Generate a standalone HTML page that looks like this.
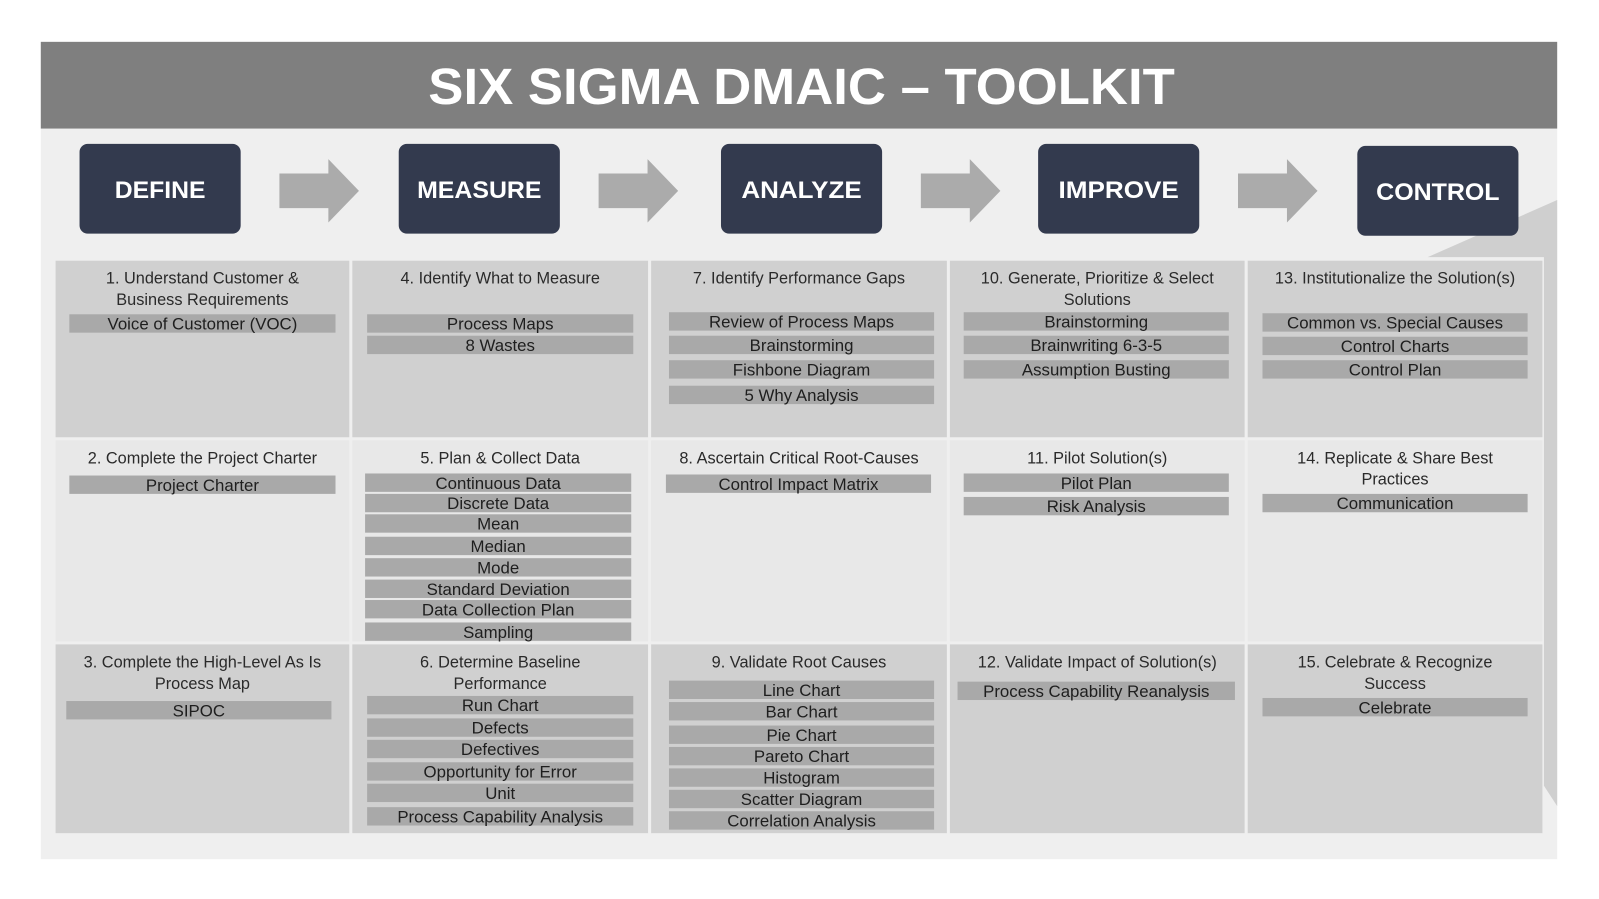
<!DOCTYPE html>
<html><head><meta charset="utf-8"><style>
html,body{margin:0;padding:0;background:#fff;}
svg{display:block;}
text{font-family:"Liberation Sans",sans-serif;}
</style></head><body>
<svg id="chart" width="1599" height="899" viewBox="0 0 1568 881" preserveAspectRatio="none" xmlns="http://www.w3.org/2000/svg">
<rect x="0" y="0" width="1568" height="881" fill="#ffffff"/>
<rect x="40" y="126" width="1487" height="716" fill="#efefef"/>
<polygon points="1400,252 1527,196 1527,790 1514,770 1514,252" fill="#cfcfcf"/>
<rect x="40" y="41" width="1487" height="85" fill="#7f7f7f"/>
<text x="786" y="102" text-anchor="middle" font-size="50" font-weight="bold" fill="#ffffff" textLength="732" lengthAdjust="spacingAndGlyphs">SIX SIGMA DMAIC – TOOLKIT</text>
<g id="phases"></g>
<g id="grid"></g>
</svg>
<script>
const phases = ["DEFINE","MEASURE","ANALYZE","IMPROVE","CONTROL"];
const cellTitles = [
 [["1. Understand Customer &","Business Requirements"],["4. Identify What to Measure"],["7. Identify Performance Gaps"],["10. Generate, Prioritize & Select","Solutions"],["13. Institutionalize the Solution(s)"]],
 [["2. Complete the Project Charter"],["5. Plan & Collect Data"],["8. Ascertain Critical Root-Causes"],["11. Pilot Solution(s)"],["14. Replicate & Share Best","Practices"]],
 [["3. Complete the High-Level As Is","Process Map"],["6. Determine Baseline","Performance"],["9. Validate Root Causes"],["12. Validate Impact of Solution(s)"],["15. Celebrate & Recognize","Success"]]
];
const cellItems = [
 [["Voice of Customer (VOC)"],["Process Maps","8 Wastes"],["Review of Process Maps","Brainstorming","Fishbone Diagram","5 Why Analysis"],["Brainstorming","Brainwriting 6-3-5","Assumption Busting"],["Common vs. Special Causes","Control Charts","Control Plan"]],
 [["Project Charter"],["Continuous Data","Discrete Data","Mean","Median","Mode","Standard Deviation","Data Collection Plan","Sampling"],["Control Impact Matrix"],["Pilot Plan","Risk Analysis"],["Communication"]],
 [["SIPOC"],["Run Chart","Defects","Defectives","Opportunity for Error","Unit","Process Capability Analysis"],["Line Chart","Bar Chart","Pie Chart","Pareto Chart","Histogram","Scatter Diagram","Correlation Analysis"],["Process Capability Reanalysis"],["Celebrate"]]
];
const itemY = [
 [[317],[317,338],[315,338,362,387],[315,338,362],[316,339,362]],
 [[475],[473,493,513,535,556,577,597,619],[474],[473,496],[493]],
 [[696],[691,713,734,756,777,800],[676,697,720,741,762,783,804],[677],[693]]
];
const NS="http://www.w3.org/2000/svg";
function mk(tag,attrs,parent){const e=document.createElementNS(NS,tag);for(const k in attrs)e.setAttribute(k,attrs[k]);parent.appendChild(e);return e;}
const pg=document.getElementById('phases');
const boxX=[78,391,707,1018,1331], boxY=[141,141,141,141,143], labW=[89,122,118,118,121];
phases.forEach((p,i)=>{
 const b=mk('rect',{x:boxX[i],y:boxY[i],width:158,height:88,rx:8,fill:'#333a4e'},pg);
 
 
 const t=mk('text',{x:boxX[i]+79,y:boxY[i]+53,'text-anchor':'middle','font-size':24,'font-weight':'bold',fill:'#fff',textLength:labW[i],lengthAdjust:'spacingAndGlyphs'},pg);
 t.textContent=p;
 
 
 if(i<4){
  const ax=boxX[i]+196;
  const a=mk('polygon',{points:`${ax},170 ${ax+48},170 ${ax+48},156 ${ax+78},187 ${ax+48},218 ${ax+48},204 ${ax},204`,fill:'#ababab'},pg);
  
  
 }
});
const gg=document.getElementById('grid');
const colX=[53,344,637,930,1222,1514], rowY=[254,430,630,818], rowFill=['#d0d0d0','#e8e8e8','#d0d0d0'];
const barX=[[68,329],[360,621],[656,916],[945,1205],[1238,1498]];
for(let r=0;r<3;r++){for(let c=0;c<5;c++){
 const x0=colX[c],x1=colX[c+1],y0=rowY[r],y1=rowY[r+1];
 const cell=mk('rect',{x:x0+1.5,y:y0+1.5,width:x1-x0-3,height:y1-y0-3,fill:rowFill[r]},gg);
 
 
 const cx=(x0+x1)/2;
 cellTitles[r][c].forEach((line,k)=>{
  const t=mk('text',{x:cx,y:rowY[r]+24+k*21,'text-anchor':'middle','font-size':16,fill:'#2a2a2a'},gg);
  t.textContent=line;
  
  
 });
 let bx=barX[c];
 if(r===2&&c===3) bx=[939,1211];
 if(r===1&&c===1) bx=[358,619];
 if(r===1&&c===2) bx=[653,913];
 if(r===2&&c===0) bx=[65,325];
 cellItems[r][c].forEach((it,k)=>{
  const yc=itemY[r][c][k];
  const br=mk('rect',{x:bx[0],y:yc-9,width:bx[1]-bx[0],height:18,fill:'#a9a9a9'},gg);
  
  
  const t=mk('text',{x:(bx[0]+bx[1])/2,y:yc+6,'text-anchor':'middle','font-size':16.5,fill:'#1e1e1e'},gg);
  t.textContent=it;
  
  
 });
}}
</script>
</body></html>
